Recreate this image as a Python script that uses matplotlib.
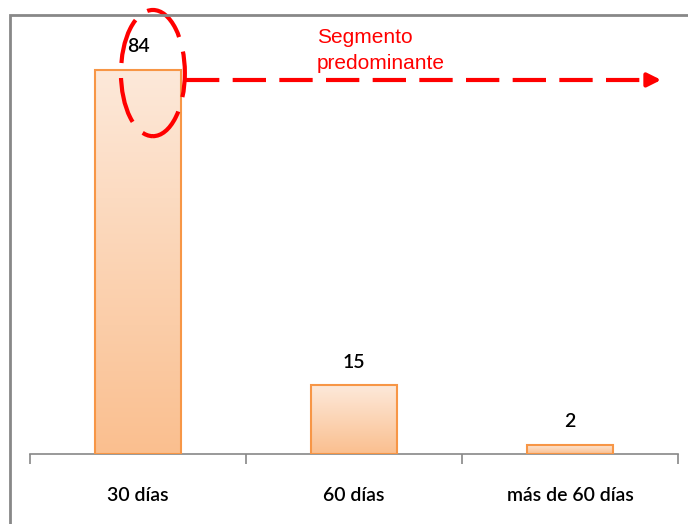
import matplotlib.pyplot as plt
import numpy as np
from matplotlib.colors import LinearSegmentedColormap
from matplotlib.patches import Ellipse, Rectangle

categorias = ['30 días', '60 días', 'más de 60 días']
valores = [84, 15, 2]

fuente = ['Lato', 'DejaVu Sans']
naranja = '#F79646'
degradado = LinearSegmentedColormap.from_list('naranja', ['#FABF8F', '#FDE9DA'])

fig = plt.figure(figsize=(6.88, 5.24), dpi=100)
ax = fig.add_axes([30 / 688, 70 / 524, 648 / 688, 439 / 524])

x = np.arange(len(categorias))
ancho = 0.4
barras = ax.bar(x, valores, width=ancho, facecolor='none', edgecolor=naranja,
                linewidth=1.5, zorder=3)

# relleno en degradado dentro de cada barra
grad = np.linspace(0, 1, 256).reshape(-1, 1)
for xi, v in zip(x, valores):
    ax.imshow(grad, extent=[xi - ancho / 2, xi + ancho / 2, 0, v], origin='lower',
              aspect='auto', cmap=degradado, zorder=2)
    ax.annotate(str(v), (xi, v), xytext=(0, 16.5), textcoords='offset points',
                ha='center', va='center', fontsize=14, family=fuente,
                fontweight='semibold', color='black')

ax.set_xlim(-0.5, 2.5)
ax.set_ylim(0, 96)

for lado in ['top', 'right', 'left']:
    ax.spines[lado].set_visible(False)
ax.spines['bottom'].set_color('#888888')
ax.spines['bottom'].set_linewidth(1.2)
ax.set_yticks([])

ax.set_xticks(x)
ax.set_xticklabels(categorias, fontsize=14, family=fuente, fontweight='semibold')
ax.tick_params(axis='x', which='major', length=0, pad=24)
ax.set_xticks([-0.5, 0.5, 1.5, 2.5], minor=True)
ax.tick_params(axis='x', which='minor', length=7, color='#888888', width=1.2)

# elipse y flecha que resaltan el segmento predominante
ax.add_patch(Ellipse((0.069, 83.3), 0.296, 27.6, fill=False, edgecolor='red',
                     linewidth=3, linestyle=(2, (11, 3.6)), zorder=5, clip_on=False))
ax.plot([0.222, 2.36], [81.8, 81.8], color='red', linewidth=3,
        linestyle=(0, (8, 3.2)), zorder=5, clip_on=False)
ax.annotate('', xy=(2.435, 81.8), xytext=(2.36, 81.8),
            arrowprops=dict(arrowstyle='-|>,head_length=0.8,head_width=0.4',
                            color='red', lw=3), annotation_clip=False)
ax.text(0.829, 93.2, 'Segmento\npredominante', color='red', fontsize=15,
        family=['Liberation Sans', 'DejaVu Sans'], ha='left', va='top',
        linespacing=1.45)

# marco gris del gráfico
fig.add_artist(Rectangle((10 / 688, -0.1), 1.2, 1 - 15 / 524 + 0.1,
                         transform=fig.transFigure, fill=False,
                         edgecolor='#888888', linewidth=2))

fig.savefig('out.png', dpi=100)
